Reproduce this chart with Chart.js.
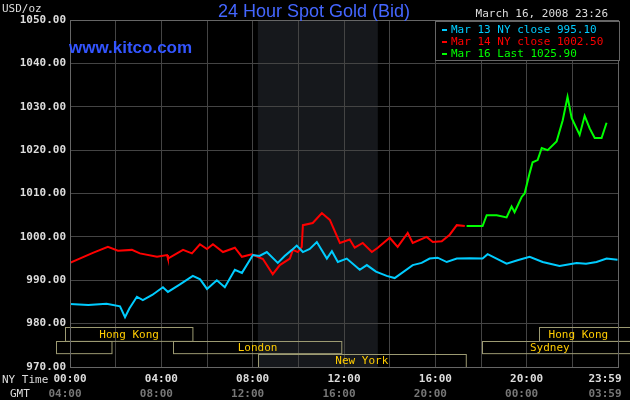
<!DOCTYPE html>
<html lang="en">
<head>
<meta charset="UTF-8">
<title>24 Hour Spot Gold</title>
<style>
  body { margin: 0; background: #000; }
  #wrap { width: 630px; height: 400px; }
</style>
<script src="https://cdn.jsdelivr.net/npm/chart.js"></script>
</head>
<body>
<div id="wrap"><canvas id="myChart" width="630" height="400"></canvas></div>
<script>
// hours (NY time) and prices
const mar13Hours = [0, 0.8, 1.6, 2.19, 2.41, 2.6, 2.93, 3.19, 3.6, 4.07, 4.29, 4.8, 5.38, 5.7, 6.0, 6.43, 6.78, 7.22, 7.53, 8.01, 8.3, 8.62, 9.1, 9.4, 9.72, 9.93, 10.2, 10.5, 10.81, 11.25, 11.47, 11.73, 12.12, 12.69, 13.0, 13.4, 13.87, 14.22, 15.01, 15.4, 15.75, 16.1, 16.5, 16.94, 17.5, 18.07, 18.29, 19.12, 19.6, 20.13, 20.7, 21.44, 22.19, 22.6, 23.06, 23.5, 23.98];
const mar13Values = [984.5, 984.3, 984.6, 984.0, 981.5, 983.5, 986.2, 985.4, 986.6, 988.4, 987.3, 989.0, 991.0, 990.2, 988.0, 990.0, 988.4, 992.4, 991.7, 995.8, 995.6, 996.5, 994.0, 995.6, 997.0, 998.0, 996.5, 997.2, 998.8, 995.0, 996.7, 994.2, 995.0, 992.4, 993.5, 992.0, 991.0, 990.5, 993.5, 994.0, 995.0, 995.2, 994.2, 995.0, 995.1, 995.0, 996.0, 993.8, 994.6, 995.4, 994.2, 993.3, 994.0, 993.8, 994.2, 995.0, 994.7];

const mar14Hours = [0, 1.0, 1.66, 2.1, 2.71, 3.06, 3.81, 4.25, 4.29, 4.95, 5.34, 5.69, 6.0, 6.26, 6.7, 7.22, 7.53, 7.96, 8.45, 8.88, 9.19, 9.63, 9.76, 9.98, 10.15, 10.2, 10.63, 11.03, 11.38, 11.82, 12.25, 12.47, 12.82, 13.22, 13.48, 14.0, 14.35, 14.79, 15.01, 15.62, 15.89, 16.28, 16.63, 16.94, 17.29];
const mar14Values = [994.0, 996.3, 997.7, 996.8, 997.0, 996.2, 995.4, 995.8, 995.0, 997.0, 996.2, 998.3, 997.2, 998.3, 996.5, 997.5, 995.4, 996.0, 994.9, 991.4, 993.5, 995.0, 997.0, 996.5, 997.7, 1002.7, 1003.2, 1005.5, 1003.9, 998.6, 999.4, 997.5, 998.6, 996.5, 997.5, 999.8, 997.7, 1000.9, 998.6, 1000.0, 998.8, 999.0, 1000.5, 1002.7, 1002.5];

const mar16Hours = [17.37, 18.07, 18.25, 18.69, 19.12, 19.34, 19.47, 19.78, 19.91, 20.13, 20.26, 20.48, 20.66, 20.92, 21.31, 21.58, 21.79, 21.97, 22.32, 22.54, 22.76, 22.98, 23.28, 23.5];
const mar16Values = [1002.5, 1002.5, 1005.0, 1005.0, 1004.5, 1007.0, 1005.7, 1009.2, 1010.0, 1014.7, 1017.2, 1017.7, 1020.5, 1020.0, 1022.0, 1026.9, 1032.3, 1027.4, 1023.5, 1027.9, 1025.0, 1022.8, 1022.8, 1026.3];

const nyTicks = ['00:00', '04:00', '08:00', '12:00', '16:00', '20:00', '23:59'];
const gmtTicks = ['04:00', '08:00', '12:00', '16:00', '20:00', '00:00', '03:59'];
const legendTexts = ['Mar 13 NY close 995.10', 'Mar 14 NY close 1002.50', 'Mar 16 Last 1025.90'];
const legendColors = ['#00ccff', '#ff0000', '#00ff00'];

// sessions: [name, start hour, end hour, row]
const sessions = [
  ['Hong Kong', -0.2, 5.38, 0],
  ['', -0.6, 1.83, 1],
  ['London', 4.53, 11.9, 1],
  ['New York', 8.23, 17.33, 2],
  ['Sydney', 18.03, 25, 1],
  ['Hong Kong', 20.53, 25, 0]
];
const rowTops = [979.2, 976.0, 973.0];
const rowBottoms = [976.0, 973.2, 970.0];
const shadeStart = 8.23, shadeEnd = 13.48;

const mono = '"DejaVu Sans Mono", monospace';

function toPoints(hs, vs) {
  return hs.map((h, i) => ({ x: h, y: vs[i] }));
}

const backgroundPlugin = {
  id: 'bg',
  beforeDraw(chart) {
    const c = chart.ctx, a = chart.chartArea, x = chart.scales.x;
    c.save();
    c.fillStyle = '#000';
    c.fillRect(0, 0, chart.width, chart.height);
    c.fillStyle = '#16181c';
    c.fillRect(x.getPixelForValue(shadeStart), a.top, x.getPixelForValue(shadeEnd) - x.getPixelForValue(shadeStart), a.bottom - a.top);
    c.restore();
  },
  afterDatasetsDraw(chart) {
    const c = chart.ctx, a = chart.chartArea, x = chart.scales.x, y = chart.scales.y;
    c.save();
    // session boxes
    c.font = '11px ' + mono;
    c.textAlign = 'center';
    c.textBaseline = 'middle';
    sessions.forEach(s => {
      const l = x.getPixelForValue(s[1]);
      const r = Math.min(x.getPixelForValue(s[2]), chart.width + 5);
      const t = y.getPixelForValue(rowTops[s[3]]);
      const b = y.getPixelForValue(rowBottoms[s[3]]);
      c.strokeStyle = '#9c9a72';
      c.lineWidth = 1;
      c.strokeRect(Math.round(l) + 0.5, Math.round(t) + 0.5, r - l, b - t);
      if (s[0]) {
        c.fillStyle = '#ffcc00';
        const cx = (l + Math.min(r, a.right)) / 2;
        c.fillText(s[0], cx, (t + b) / 2 + 1);
      }
    });
    // frame
    c.strokeStyle = '#666';
    c.strokeRect(a.left + 0.5, a.top + 0.5, a.right - a.left, a.bottom - a.top);
    c.restore();
  },
  afterDraw(chart) {
    const c = chart.ctx, x = chart.scales.x;
    c.save();
    c.textBaseline = 'middle';
    // title
    c.font = '18px "Liberation Sans", Arial, sans-serif';
    c.fillStyle = '#4466ff';
    c.textAlign = 'center';
    c.fillText('24 Hour Spot Gold (Bid)', 314, 12);
    c.font = 'bold 17px "Liberation Sans", Arial, sans-serif';
    c.fillStyle = '#3355ff';
    c.textAlign = 'left';
    c.fillText('www.kitco.com', 69, 48);
    c.font = '11px ' + mono;
    c.fillStyle = '#dddddd';
    c.textAlign = 'right';
    c.fillText('March 16, 2008 23:26', 608, 14);
    c.textAlign = 'left';
    c.fillText('USD/oz', 2, 9);
    // legend
    c.fillStyle = '#000';
    c.fillRect(436, 22, 184, 39);
    c.strokeStyle = '#666';
    c.strokeRect(435.5, 21.5, 184, 39);
    legendTexts.forEach((t, i) => {
      c.fillStyle = legendColors[i];
      c.fillRect(442, 29 + i * 12, 5, 2);
      c.fillText(t, 451, 30 + i * 12);
    });
    // bottom labels
    c.fillStyle = '#dddddd';
    c.fillText('NY Time', 2, 380);
    c.fillText('GMT', 10, 394);
    c.textAlign = 'center';
    c.font = 'bold 11px ' + mono;
    nyTicks.forEach((t, i) => {
      const px = x.getPixelForValue(Math.min(i * 4, 24));
      c.fillStyle = '#dddddd';
      c.fillText(t, i === 6 ? px - 13 : px, 379);
      c.fillStyle = '#777';
      c.fillText(gmtTicks[i], i === 6 ? px - 13 : px - 5, 394);
    });
    c.restore();
  }
};

const ctx = document.getElementById('myChart').getContext('2d');
new Chart(ctx, {
  type: 'line',
  data: {
    datasets: [
      { data: toPoints(mar13Hours, mar13Values), borderColor: '#00ccff', borderWidth: 2, pointRadius: 0, tension: 0 },
      { data: toPoints(mar14Hours, mar14Values), borderColor: '#ff0000', borderWidth: 2, pointRadius: 0, tension: 0 },
      { data: toPoints(mar16Hours, mar16Values), borderColor: '#00ff00', borderWidth: 2, pointRadius: 0, tension: 0 }
    ]
  },
  options: {
    responsive: false,
    animation: false,
    layout: { padding: { top: 20, right: 12, left: 0, bottom: 0 } },
    plugins: { legend: { display: false }, tooltip: { enabled: false } },
    scales: {
      x: {
        type: 'linear', min: 0, max: 24,
        afterFit(s) { s.height = 33; s.paddingRight = 0; s.paddingLeft = 0; },
        afterBuildTicks(s) { s.ticks = [0, 2, 4, 6, 8, 10, 12, 14, 16, 18, 20, 22, 24].map(v => ({ value: v })); },
        grid: { color: '#444', drawTicks: false },
        border: { display: false },
        ticks: { display: false }
      },
      y: {
        min: 970, max: 1050,
        afterFit(s) { s.width = 70; },
        grid: { color: '#444', drawTicks: false },
        border: { display: false },
        ticks: { stepSize: 10, color: '#dddddd', font: { family: mono, size: 11, weight: 'bold' }, padding: 4, callback: v => v.toFixed(2) }
      }
    }
  },
  plugins: [backgroundPlugin]
});
</script>
</body>
</html>
